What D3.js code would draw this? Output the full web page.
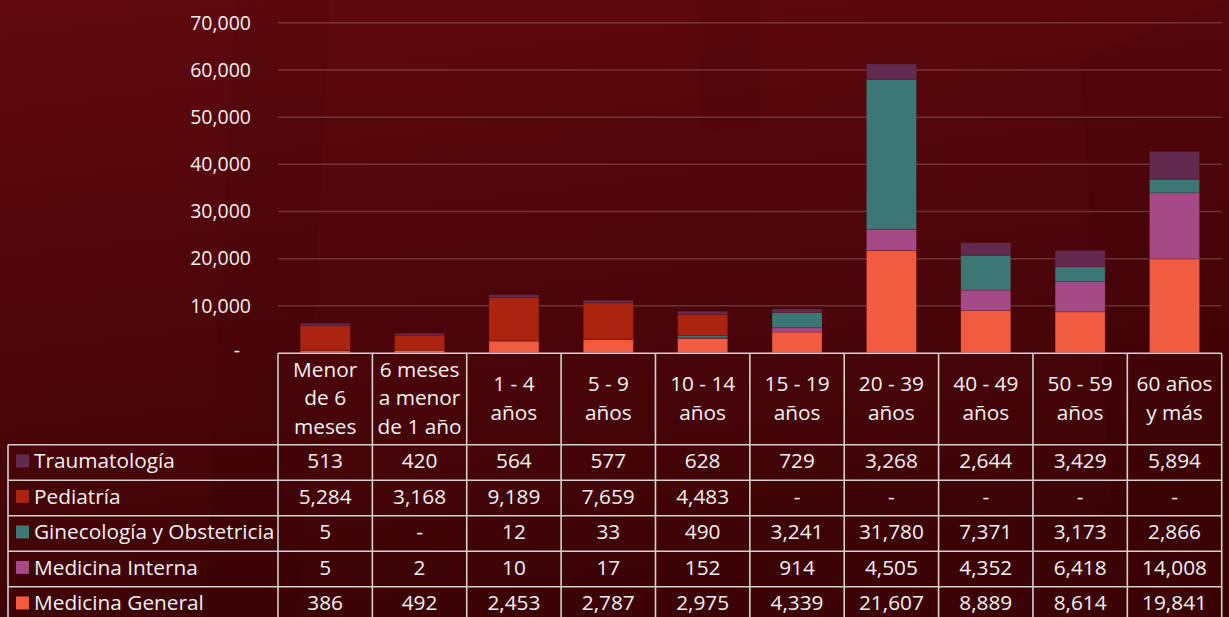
<!DOCTYPE html>
<html><head><meta charset="utf-8">
<script src="https://cdn.jsdelivr.net/npm/d3@7"></script>
<style>
html,body{margin:0;padding:0;background:#4a0509;}
svg{display:block;font-family:"Open Sans",Lato,sans-serif;}
</style></head>
<body>
<svg id="c" width="1229" height="617"></svg>
<script>
const categories = ["Menor de 6 meses","6 meses a menor de 1 año","1 - 4 años","5 - 9 años","10 - 14 años","15 - 19 años","20 - 39 años","40 - 49 años","50 - 59 años","60 años y más"];
const categoryLines = [["Menor","de 6","meses"],["6 meses","a menor","de 1 año"],["1 - 4","años"],["5 - 9","años"],["10 - 14","años"],["15 - 19","años"],["20 - 39","años"],["40 - 49","años"],["50 - 59","años"],["60 años","y más"]];
const seriesNames = ["Traumatología","Pediatría","Ginecología y Obstetricia","Medicina Interna","Medicina General"];
const traumatologia = [513,420,564,577,628,729,3268,2644,3429,5894];
const pediatria = [5284,3168,9189,7659,4483,0,0,0,0,0];
const ginecologia = [5,0,12,33,490,3241,31780,7371,3173,2866];
const medicinaInterna = [5,2,10,17,152,914,4505,4352,6418,14008];
const medicinaGeneral = [386,492,2453,2787,2975,4339,21607,8889,8614,19841];
const seriesColors = ["#632a4f","#aa2410","#3c7675","#a44a86","#f15c41"];
const yTicks = [0,10000,20000,30000,40000,50000,60000,70000];

const seriesValues = [traumatologia, pediatria, ginecologia, medicinaInterna, medicinaGeneral];
const svg = d3.select("#c");

// background
const defs = svg.append("defs");
const g1 = defs.append("linearGradient").attr("id","bg").attr("x1","0").attr("y1","0").attr("x2","0.25").attr("y2","1");
g1.append("stop").attr("offset","0").attr("stop-color","#600a0f");
g1.append("stop").attr("offset","0.45").attr("stop-color","#50060b");
g1.append("stop").attr("offset","1").attr("stop-color","#3c0306");
svg.append("rect").attr("width",1229).attr("height",617).attr("fill","url(#bg)");
// faint shapes
svg.append("path").attr("d","M235,0 L330,0 L300,617 L205,617 Z").attr("fill","#000").attr("opacity",0.035);
svg.append("path").attr("d","M700,0 L760,0 L760,130 L700,130 Z").attr("fill","#000").attr("opacity",0.04);
svg.append("path").attr("d","M1080,60 L1229,0 L1229,617 L1120,617 Z").attr("fill","#000").attr("opacity",0.03);

const left = 278, right = 1221.7, y0 = 352.5, yTop = 22.3;
const x = d3.scaleBand().domain(categories).range([left,right]).paddingInner(0).paddingOuter(0);
const y = d3.scaleLinear().domain([0,70000]).range([y0,yTop]);

// gridlines
const grid = svg.append("g").attr("transform",`translate(${left},0)`)
  .call(d3.axisLeft(y).tickValues(yTicks.filter(v=>v>0)).tickSize(-(right-left)).tickFormat(""));
grid.select(".domain").remove();
grid.selectAll(".tick line").attr("stroke","#ffffff").attr("stroke-opacity",0.18).attr("stroke-width",1.5);

// y labels
const yAx = svg.append("g").attr("transform",`translate(251,0)`)
  .call(d3.axisLeft(y).tickValues(yTicks).tickSize(0).tickPadding(0).tickFormat(v=> v===0 ? "-" : d3.format(",")(v)));
yAx.select(".domain").remove();
yAx.selectAll("text").attr("fill","#f2eeee").attr("font-size",19.5).attr("font-family","'Open Sans',sans-serif").attr("dy","0.35em");
yAx.selectAll(".tick").filter(d=>d===0).select("text").attr("dx",-11).attr("dy","0.2em");

// stacked bars
const rows = categories.map((c,i)=>{
  const o = {cat:c};
  seriesNames.forEach((s,j)=>o[s]=seriesValues[j][i]);
  return o;
});
const stackKeys = seriesNames.slice().reverse();
const stack = d3.stack().keys(stackKeys)(rows);
const color = d3.scaleOrdinal().domain(seriesNames).range(seriesColors);
const bw = x.bandwidth()*0.53;
svg.append("g").selectAll("g").data(stack).join("g")
  .attr("fill",d=>color(d.key))
  .selectAll("rect").data(d=>d).join("rect")
  .attr("x",d=>x(d.data.cat)+(x.bandwidth()-bw)/2)
  .attr("width",bw)
  .attr("y",d=>y(d[1]))
  .attr("height",d=>Math.max(0,y(d[0])-y(d[1])))
  .attr("stroke","#5a1010").attr("stroke-opacity",0.35).attr("stroke-width",0.8);

// data table
const tLeft = 8, headTop = 353.3, headBottom = 444.7, rowH = 35.5;
const tg = svg.append("g");
const lineCol = "#d4d0d0";
const txtCol = "#f4f0f0";
const nRows = seriesNames.length;
const tBottom = headBottom + rowH*nRows;
const fs = 20.8;
// header
categoryLines.forEach((lines,i)=>{
  const cx = x(categories[i]) + x.bandwidth()/2;
  const cy = (headTop+headBottom)/2 - 1;
  const lh = 28.5;
  lines.forEach((t,k)=>{
    tg.append("text").attr("x",cx).attr("y",cy + (k-(lines.length-1)/2)*lh)
      .attr("dy","0.35em").attr("text-anchor","middle").attr("fill",txtCol).attr("font-size",fs).text(t);
  });
});
// rows
const fmt = v => v===0 ? "-" : d3.format(",")(v);
seriesNames.forEach((s,j)=>{
  const top = headBottom + j*rowH;
  const cy = top + rowH/2 - 1.5;
  tg.append("rect").attr("x",16).attr("y",cy-6.5).attr("width",13).attr("height",13).attr("fill",seriesColors[j]);
  tg.append("text").attr("x",34).attr("y",cy).attr("dy","0.35em").attr("fill",txtCol).attr("font-size",fs).text(s);
  seriesValues[j].forEach((v,i)=>{
    tg.append("text").attr("x",x(categories[i])+x.bandwidth()/2).attr("y",cy).attr("dy","0.35em")
      .attr("text-anchor","middle").attr("fill",txtCol).attr("font-size",fs).text(fmt(v));
  });
});
// lines
const L = (x1,y1,x2,y2)=>tg.append("line").attr("x1",x1).attr("y1",y1).attr("x2",x2).attr("y2",y2)
  .attr("stroke",lineCol).attr("stroke-width",1.6);
L(left,headTop,right,headTop);
for(let j=0;j<=nRows;j++) L(tLeft,headBottom+j*rowH,right,headBottom+j*rowH);
L(tLeft,headBottom,tLeft,tBottom);
categories.forEach((c,i)=>L(x(c),headTop,x(c),tBottom));
L(right,headTop,right,tBottom);
</script>
</body></html>
